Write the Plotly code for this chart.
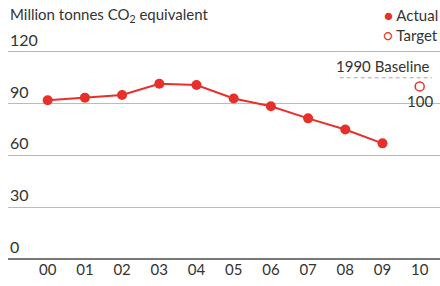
import plotly.graph_objects as go

years = [2000, 2001, 2002, 2003, 2004, 2005, 2006, 2007, 2008, 2009]
actual = [92, 93.5, 95, 101.5, 100.8, 93, 88.5, 81.5, 75, 67]
target_year = [2010]
target = [100]
baseline = 105
baseline_years = [2007.85, 2010.33]
xtick_vals = [2000, 2001, 2002, 2003, 2004, 2005, 2006, 2007, 2008, 2009, 2010]
xtick_text = ["00", "01", "02", "03", "04", "05", "06", "07", "08", "09", "10"]
ytick_vals = [0, 30, 60, 90, 120]

RED = "#e8302a"
FONT = "Lato"
TXT = "#333333"

fig = go.Figure()
fig.add_trace(go.Scatter(x=baseline_years, y=[baseline, baseline], mode="lines",
                         line=dict(color="#aaaaaa", width=1, dash="4px,3px"),
                         hoverinfo="skip", showlegend=False))
fig.add_trace(go.Scatter(x=years, y=actual, mode="lines+markers",
                         line=dict(color=RED, width=2),
                         marker=dict(color=RED, size=10), showlegend=False))
fig.add_trace(go.Scatter(x=target_year, y=target, mode="markers",
                         marker=dict(color="white", size=9, line=dict(color=RED, width=1.5)),
                         showlegend=False))

ann = []
for v in ytick_vals:
    ann.append(dict(x=0, xref="paper", y=v, yref="y", text=str(v), showarrow=False,
                    xanchor="left", yanchor="bottom", yshift=1,
                    font=dict(family=FONT, size=16, color=TXT)))
ann.append(dict(x=0, xref="paper", y=1, yref="paper", yanchor="middle", xanchor="left",
                text="Million tonnes CO<sub>2</sub> equivalent", showarrow=False,
                yshift=11, font=dict(family=FONT, size=15, color=TXT)))
ann.append(dict(x=baseline_years[1], xref="x", y=baseline, yref="y", text="1990 Baseline",
                showarrow=False, xanchor="right", yanchor="bottom", yshift=1,
                font=dict(family=FONT, size=15, color=TXT)))
ann.append(dict(x=target_year[0], xref="x", y=target[0], yref="y", text=str(target[0]),
                showarrow=False, xanchor="center", yanchor="top", yshift=-4,
                font=dict(family=FONT, size=15, color=TXT)))
ann.append(dict(x=1, xref="paper", y=1, yref="paper", yanchor="middle", xanchor="right",
                yshift=11, showarrow=False,
                text=f"<span style='color:{RED}'>●</span> Actual",
                font=dict(family=FONT, size=15, color=TXT)))
ann.append(dict(x=1, xref="paper", y=1, yref="paper", yanchor="middle", xanchor="right",
                yshift=-9, showarrow=False,
                text=f"<span style='color:{RED}'>○</span> Target",
                font=dict(family=FONT, size=15, color=TXT)))

fig.update_layout(
    width=440, height=286,
    margin=dict(l=8, r=0, t=26, b=27),
    paper_bgcolor="white", plot_bgcolor="white",
    annotations=ann,
    showlegend=False,
    xaxis=dict(range=[1998.933, 2010.546], tickvals=xtick_vals, ticktext=xtick_text,
               showgrid=False, zeroline=False, showline=False, ticks="",
               tickfont=dict(family=FONT, size=15, color=TXT), fixedrange=True),
    yaxis=dict(range=[0, 135], tickvals=ytick_vals, showticklabels=False,
               showgrid=True, gridcolor="#bbbbbb", gridwidth=1,
               zeroline=True, zerolinecolor="#777777", zerolinewidth=2, fixedrange=True),
)

fig.write_html("out.html", config={"displayModeBar": False},
               post_script="document.body.style.margin='0';document.body.style.overflow='hidden';")
